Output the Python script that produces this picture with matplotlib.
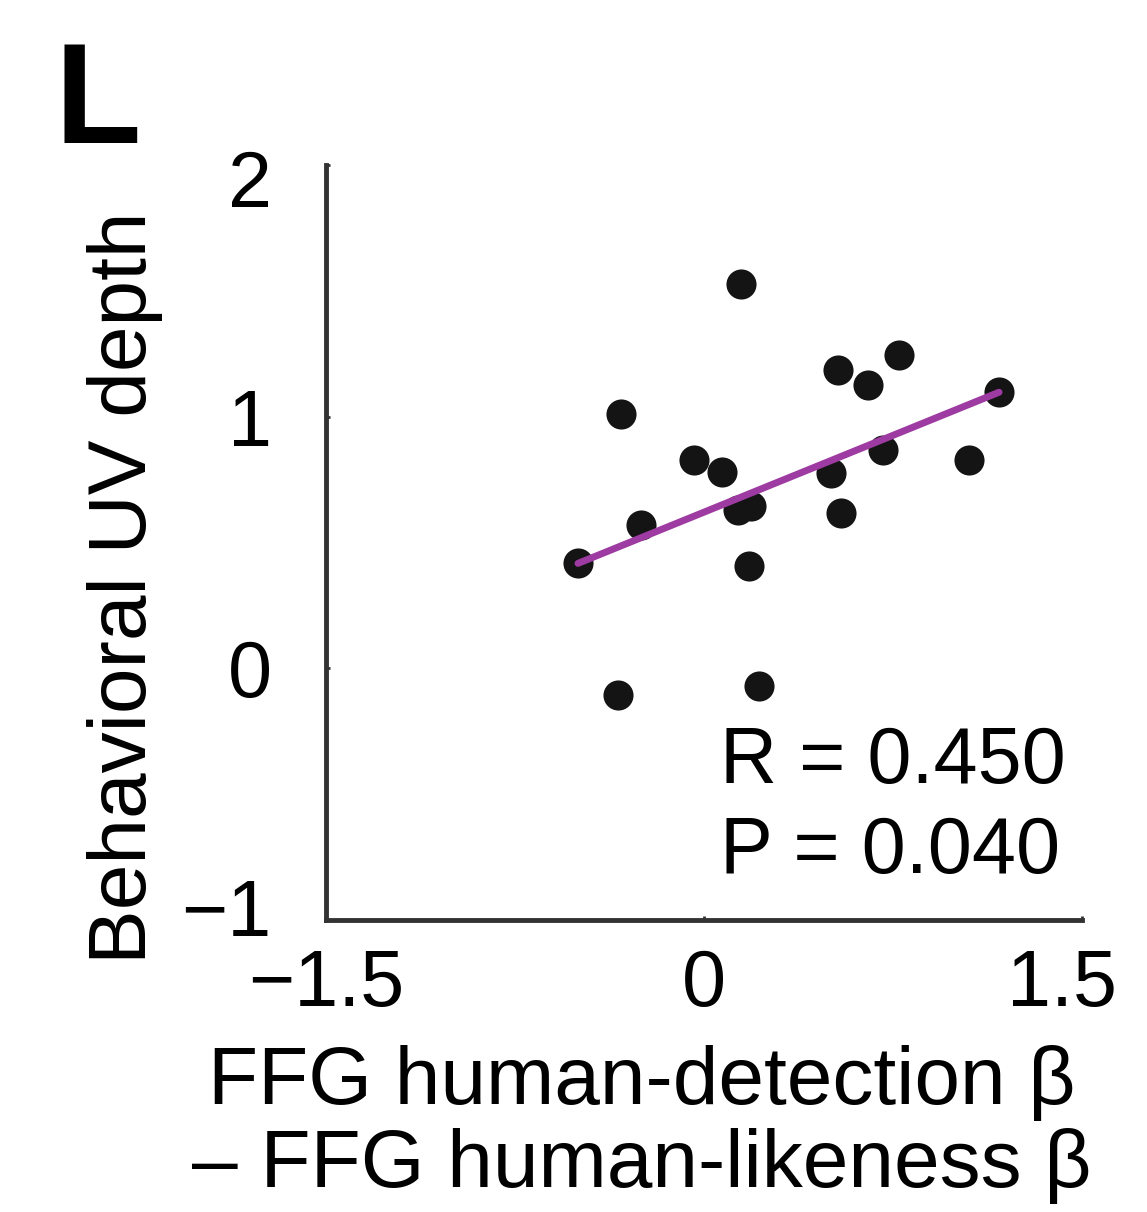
import numpy as np
import matplotlib
matplotlib.use("Agg")
import matplotlib.pyplot as plt
from matplotlib.transforms import ScaledTranslation

plt.rcParams['font.family'] = ['Liberation Sans', 'DejaVu Sans']

# Data
detect_minus_like = [-0.500, -0.329, -0.250, -0.341, -0.040, 0.071, 0.135, 0.187,
                     0.147, 0.179, 0.218, 0.504, 0.532, 0.544, 0.651, 0.710,
                     0.774, 1.052, 1.171]
uv_depth = [0.417, 1.009, 0.568, -0.107, 0.826, 0.779, 0.628, 0.644,
            1.526, 0.405, -0.072, 0.775, 1.184, 0.616, 1.124, 0.866,
            1.243, 0.826, 1.097]
fit_x = [-0.500, 1.171]
fit_y = [0.417, 1.097]

xticks = [-1.5, 0, 1.5]
xtick_labels = ["\u22121.5", "0", "1.5"]
yticks = [-1, 0, 1, 2]
ytick_labels = ["\u22121", "0", "1", "2"]

dot_color = "#141414"
fit_color = "#9e3ba3"
axis_color = "#333333"
fs = 57
label_fs = 59

fig = plt.figure(figsize=(11.47, 12.12), dpi=100)
ax = fig.add_axes([0.2842, 0.2409, 0.6591, 0.6230])

ax.scatter(detect_minus_like, uv_depth, s=470, color=dot_color, linewidths=0, zorder=2)
ax.plot(fit_x, fit_y, color=fit_color, lw=5, solid_capstyle="round", zorder=3)

ax.set_xlim(-1.5, 1.5)
ax.set_ylim(-1, 2)
ax.set_xticks(xticks)
ax.set_xticklabels(xtick_labels)
ax.set_yticks(yticks)
ax.set_yticklabels(ytick_labels)

for side in ["top", "right"]:
    ax.spines[side].set_visible(False)
for side in ["left", "bottom"]:
    ax.spines[side].set_color(axis_color)
    ax.spines[side].set_linewidth(3.5)

ax.tick_params(axis="x", direction="in", length=3, width=2, color=axis_color,
               labelsize=fs, pad=20)
ax.tick_params(axis="y", direction="in", length=3, width=2, color=axis_color,
               labelsize=fs, pad=39)

# nudge end labels inward like the original
ylabs = ax.get_yticklabels()
ylabs[0].set_transform(ylabs[0].get_transform() + ScaledTranslation(0, 0.13, fig.dpi_scale_trans))
ylabs[-1].set_transform(ylabs[-1].get_transform() + ScaledTranslation(0, -0.13, fig.dpi_scale_trans))
xlabs = ax.get_xticklabels()
xlabs[-1].set_transform(xlabs[-1].get_transform() + ScaledTranslation(-0.20, 0, fig.dpi_scale_trans))

ax.set_xlabel("FFG human-detection \u03b2\n\u2013 FFG human-likeness \u03b2",
              fontsize=label_fs, linespacing=1.12)
ax.xaxis.set_label_coords(0.418, -0.165)
ax.xaxis.label.set_va("top")

ax.set_ylabel("Behavioral UV depth", fontsize=label_fs)
ax.yaxis.set_label_coords(-0.215, 0.44)

ax.text(0.521, 0.181, "R = 0.450", transform=ax.transAxes, fontsize=fs, va="baseline")
ax.text(0.521, 0.062, "P = 0.040", transform=ax.transAxes, fontsize=fs, va="baseline")

fig.text(55 / 1147, 1 - 143 / 1212, "L", fontsize=102, fontweight="bold", va="baseline")

fig.savefig("out.png", dpi=100, facecolor="white")
